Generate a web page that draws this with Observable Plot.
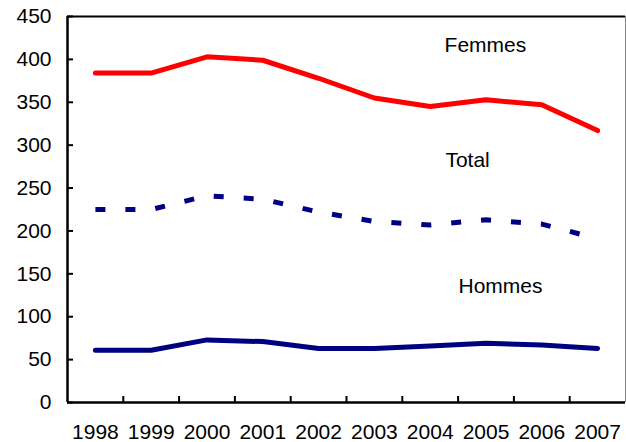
<!DOCTYPE html>
<html>
<head>
<meta charset="utf-8">
<script src="https://cdn.jsdelivr.net/npm/d3@7"></script>
<script src="https://cdn.jsdelivr.net/npm/@observablehq/plot@0.6"></script>
<style>
  html, body { margin: 0; padding: 0; background: #fff; }
  #chart svg { display: block; }
</style>
</head>
<body>
<div id="chart"></div>
<script>
const years = [1998, 1999, 2000, 2001, 2002, 2003, 2004, 2005, 2006, 2007];
const femmes = [384, 384, 403, 399, 378, 355, 345, 353, 347, 317];
const total = [225, 225, 241, 237, 222, 211, 207, 213, 208, 191];
const hommes = [61, 61, 73, 71, 63, 63, 66, 69, 67, 63];
const yTicks = [0, 50, 100, 150, 200, 250, 300, 350, 400, 450];
const xBoundaries = [1998.5, 1999.5, 2000.5, 2001.5, 2002.5, 2003.5, 2004.5, 2005.5, 2006.5];
const seriesLabels = ["Femmes", "Total", "Hommes"];
const labelX = [2004.99, 2004.67, 2005.26];
const labelY = [417, 282, 136];

const rows = (vals) => years.map((y, i) => ({year: y, value: vals[i]}));
const labels = seriesLabels.map((t, i) => ({text: t, x: labelX[i], y: labelY[i]}));

const font = "'Liberation Sans', Arial, Helvetica, sans-serif";
const W = 626, H = 442, mL = 67, mR = 1, mT = 16, mB = 40, tick = 6;

const chart = Plot.plot({
  width: W,
  height: H,
  marginLeft: mL,
  marginRight: mR,
  marginTop: mT,
  marginBottom: mB,
  style: {fontFamily: font, fontSize: "21px", background: "#fff", color: "#000"},
  x: {type: "linear", domain: [1997.5, 2007.5]},
  y: {type: "linear", domain: [0, 450]},
  marks: [
    // frame
    Plot.ruleX([2007.5], {stroke: "#888", strokeWidth: 1}),
    Plot.ruleY([450], {stroke: "#000", strokeWidth: 2}),
    // inward tick marks
    Plot.ruleY(yTicks, {stroke: "#000", strokeWidth: 2, insetRight: W - mL - mR - tick}),
    Plot.ruleX(xBoundaries, {stroke: "#000", strokeWidth: 2, insetTop: H - mT - mB - tick}),
    // axis labels
    Plot.axisY({ticks: yTicks, tickSize: 0, tickPadding: 16, fontSize: 21, fill: "#000", label: null}),
    Plot.axisX({ticks: years, tickSize: 0, tickPadding: 22, tickFormat: d => String(d), fontSize: 21, fill: "#000", label: null}),
    // data lines
    Plot.line(rows(femmes), {x: "year", y: "value", stroke: "#ff0000", strokeWidth: 5, strokeLinecap: "round", strokeLinejoin: "round"}),
    Plot.line(rows(total), {x: "year", y: "value", stroke: "#000080", strokeWidth: 5, strokeDasharray: "10,20", strokeLinecap: "butt"}),
    Plot.line(rows(hommes), {x: "year", y: "value", stroke: "#000080", strokeWidth: 5, strokeLinecap: "round", strokeLinejoin: "round"}),
    // axis lines
    Plot.ruleX([1997.5], {stroke: "#000", strokeWidth: 2.5}),
    Plot.ruleY([0], {stroke: "#000", strokeWidth: 2.5}),
    // series labels
    Plot.text(labels, {x: "x", y: "y", text: "text", fontSize: 21, fill: "#000"})
  ]
});
document.getElementById("chart").appendChild(chart);
</script>
</body>
</html>
